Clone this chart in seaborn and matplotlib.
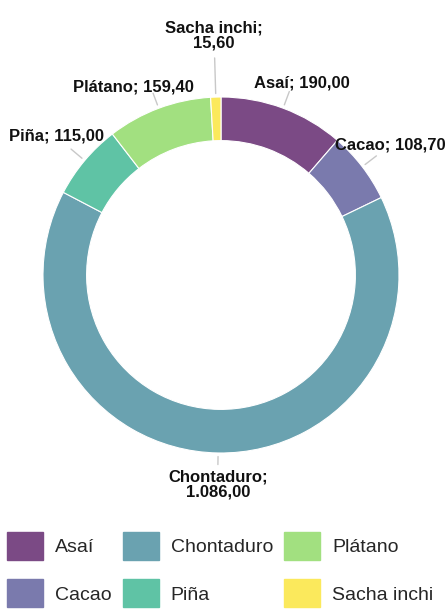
import numpy as np
import matplotlib
matplotlib.use("Agg")
import matplotlib.pyplot as plt
import seaborn as sns
from matplotlib.patches import Patch

categories = ["Asaí", "Cacao", "Chontaduro", "Piña", "Plátano", "Sacha inchi"]
values = [190.00, 108.70, 1086.00, 115.00, 159.40, 15.60]
value_labels = ["190,00", "108,70", "1.086,00", "115,00", "159,40", "15,60"]
colors = ["#7b4a85", "#7a7aad", "#6aa2b0", "#5fc3a5", "#a2e080", "#fbe95c"]

sns.set_theme(style="white")
plt.rcParams['font.family'] = ['Liberation Sans', 'DejaVu Sans']

fig = plt.figure(figsize=(4.48, 6.10), dpi=100)
R = 178.0
ax = fig.add_axes([0, 110 / 610, 1, 500 / 610])
wedges, _ = ax.pie(values, colors=colors, startangle=90, counterclock=False,
                   radius=1.0, wedgeprops=dict(width=0.245, edgecolor="white", linewidth=0.8))
ax.set_xlim(-221 / R, 227 / R)
ax.set_ylim(-225 / R, 275 / R)
ax.set_aspect('auto')

# label placement styling: (text radius, angle shift in degrees, leader end radius)
label_style = {
    "Asaí": (1.17, -2.5, 1.10),
    "Cacao": (1.20, 0.0, 1.10),
    "Chontaduro": (1.095, 0.0, 1.065),
    "Piña": (1.21, 0.0, 1.10),
    "Plátano": (1.165, 4.5, 1.09),
    "Sacha inchi": (1.345, 0.0, 1.22),
}
for w, cat, vl in zip(wedges, categories, value_labels):
    mid = (w.theta1 + w.theta2) / 2
    tr, dshift, lr = label_style[cat]
    ang = np.deg2rad(mid)
    c, s = np.cos(ang), np.sin(ang)
    ax.plot([1.02 * c, lr * c], [1.02 * s, lr * s], color="#c8c8c8", lw=1.0)
    if cat in ("Chontaduro", "Sacha inchi"):
        txt = f"{cat};\n{vl}"
    else:
        txt = f"{cat}; {vl}"
    ta = np.deg2rad(mid + dshift)
    va = "top" if cat == "Chontaduro" else "center"
    ax.text(tr * np.cos(ta), tr * np.sin(ta), txt, ha="center", va=va, fontsize=12,
            fontweight="bold", color="#111111", linespacing=0.95)

handles = [Patch(facecolor=col, edgecolor=col) for col in colors]
fig.legend(handles, categories, loc="upper left", bbox_to_anchor=(7 / 448, 1 - 532 / 610),
           ncol=3, frameon=False, fontsize=14, handlelength=1.85, handleheight=1.85,
           handletextpad=0.62, columnspacing=0.57, labelspacing=0.98,
           borderpad=0, borderaxespad=0)

fig.savefig("out.png", dpi=100)
